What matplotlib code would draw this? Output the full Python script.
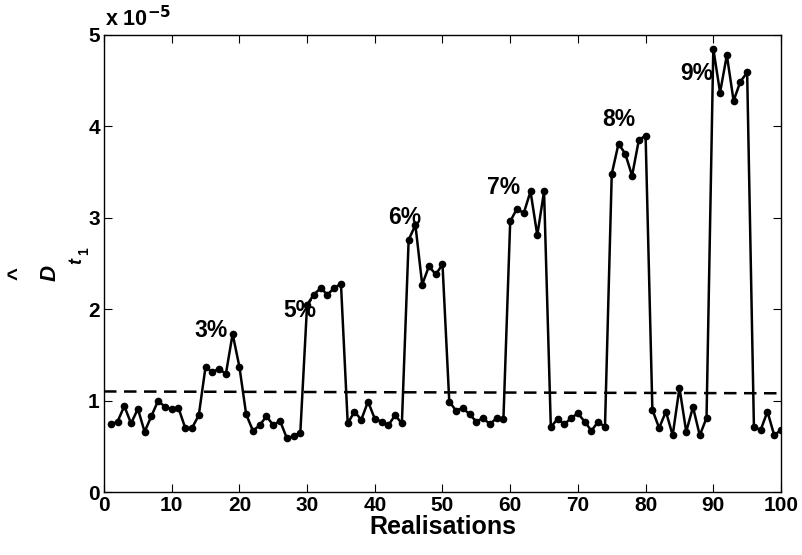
import matplotlib
matplotlib.use("Agg")
import matplotlib.pyplot as plt
import numpy as np

# Data (values in units of 1e-5)
realisations = list(range(1, 101))
d_hat = [0.74, 0.77, 0.94, 0.75, 0.91, 0.66, 0.83, 1.00, 0.93, 0.91,
         0.92, 0.70, 0.70, 0.84, 1.37, 1.31, 1.35, 1.29, 1.73, 1.37,
         0.85, 0.67, 0.73, 0.83, 0.73, 0.78, 0.59, 0.61, 0.65, 2.05,
         2.16, 2.23, 2.16, 2.23, 2.28, 0.75, 0.88, 0.79, 0.99, 0.80,
         0.77, 0.73, 0.84, 0.75, 2.76, 2.92, 2.27, 2.47, 2.38, 2.49,
         0.99, 0.89, 0.92, 0.85, 0.77, 0.81, 0.74, 0.81, 0.80, 2.96,
         3.10, 3.05, 3.29, 2.81, 3.29, 0.71, 0.80, 0.74, 0.81, 0.86,
         0.77, 0.67, 0.77, 0.71, 3.48, 3.81, 3.70, 3.46, 3.85, 3.90,
         0.90, 0.70, 0.88, 0.62, 1.14, 0.66, 0.93, 0.62, 0.81, 4.85,
         4.37, 4.78, 4.28, 4.49, 4.59, 0.71, 0.68, 0.88, 0.62, 0.68]
threshold_x = [0, 100]
threshold_y = [1.10, 1.08]

pct_labels = ["3%", "5%", "6%", "7%", "8%", "9%"]
pct_x = [15.8, 28.9, 44.4, 59.0, 76.1, 87.6]
pct_y = [1.77, 1.99, 3.00, 3.33, 4.08, 4.58]

xticks = list(range(0, 101, 10))
yticks = [0, 1, 2, 3, 4, 5]

plt.rcParams['font.family'] = ['Liberation Sans', 'DejaVu Sans']
plt.rcParams['font.weight'] = 'bold'

fig = plt.figure(figsize=(8.03, 5.55), dpi=100)
ax = fig.add_axes([104/803, 1-492/555, (781-104)/803, (492-35)/555])

ax.plot(threshold_x, threshold_y, color='black', linestyle=(0, (5, 3)), linewidth=1.8)
ax.plot(realisations, d_hat, color='black', linewidth=1.8, marker='o', markersize=4.5)

for lbl, x, y in zip(pct_labels, pct_x, pct_y):
    ax.text(x, y, lbl, ha='center', va='center', fontsize=16.5, fontweight='bold')

ax.set_xlim(0, 100)
ax.set_ylim(0, 5)
ax.set_xticks(xticks)
ax.set_yticks(yticks)
ax.tick_params(direction='in', length=6, width=0.8, top=True, right=True,
               labelsize=15, pad=3)
for lab in ax.get_xticklabels() + ax.get_yticklabels():
    lab.set_fontweight('bold')
for s in ax.spines.values():
    s.set_linewidth(1.0)

ax.set_xlabel('Realisations', fontsize=18, fontweight='bold', labelpad=0)

# offset text
fig.text(105/803, 1-19/555, r'x 10$^{\mathbf{-5}}$', fontsize=15.5, fontweight='bold',
         ha='left', va='center')

# y-label pieces: hat, D, t, 1
fig.text(18/803, 1-273/555, '^', rotation=90, fontsize=16, fontweight='bold', ha='center', va='center')
fig.text(50/803, 1-273/555, 'D', rotation=90, fontsize=16, fontweight='bold', style='italic', ha='center', va='center')
fig.text(77/803, 1-261/555, 't', rotation=90, fontsize=13, fontweight='bold', style='italic', ha='center', va='center')
fig.text(84/803, 1-251/555, '1', rotation=90, fontsize=10, fontweight='bold', ha='center', va='center')

fig.savefig('out.png', dpi=100)
